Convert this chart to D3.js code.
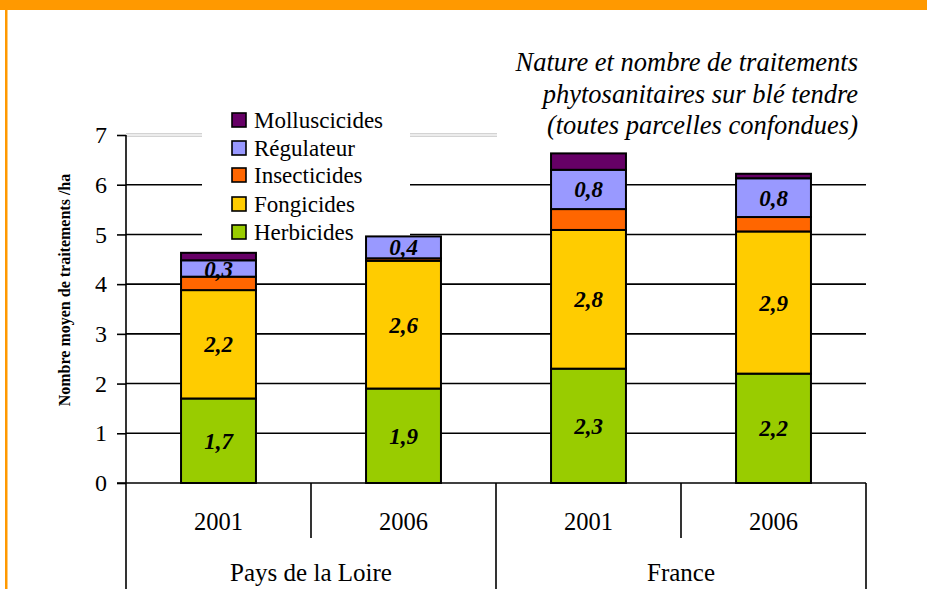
<!DOCTYPE html>
<html>
<head>
<meta charset="utf-8">
<script src="https://cdn.jsdelivr.net/npm/d3@7"></script>
<style>
  body { margin: 0; background: #fff; }
  svg text { font-family: 'Liberation Serif', 'DejaVu Serif', serif; fill: #000; }
  .bar-label { font-weight: bold; font-style: italic; font-size: 23px; }
</style>
</head>
<body>
<div id="vis"></div>
<script>
// data
const groups = ['Pays de la Loire', 'France']
const years = ['2001', '2006', '2001', '2006']
const barGroup = [0, 0, 1, 1]
const series = ['Herbicides', 'Fongicides', 'Insecticides', 'Régulateur', 'Molluscicides']
const herbicides = [1.7, 1.9, 2.3, 2.2]
const fongicides = [2.18, 2.57, 2.79, 2.86]
const insecticides = [0.27, 0.05, 0.42, 0.29]
const regulateur = [0.33, 0.44, 0.79, 0.78]
const molluscicides = [0.15, 0, 0.33, 0.09]
const labelled = ['Herbicides', 'Fongicides', 'Régulateur']
const colors = ['#99cc00', '#ffcc00', '#ff6600', '#9999ff', '#660066']
const yTicks = [0, 1, 2, 3, 4, 5, 6, 7]
const titleLines = ['Nature et nombre de traitements', 'phytosanitaires sur blé tendre', '(toutes parcelles confondues)']

;(function() {
  const svg_width = 927,
        svg_height = 589,
        svg = d3.select('#vis').append('svg')

  svg.attr('width', svg_width)
    .attr('height', svg_height)
    .attr('font-family', "'Liberation Serif', 'DejaVu Serif', serif")

  const left = 126, right = 866, top = 135, bottom = 483

  const rows = years.map((yr, i) => ({
    idx: i,
    'Herbicides': herbicides[i],
    'Fongicides': fongicides[i],
    'Insecticides': insecticides[i],
    'Régulateur': regulateur[i],
    'Molluscicides': molluscicides[i]
  }))

  const stacked = d3.stack().keys(series)(rows)

  const x = d3.scaleBand()
    .domain(d3.range(years.length))
    .range([left, right])
    .paddingInner(0.595)
    .paddingOuter(0.595 / 2)

  const xCat = d3.scaleBand()
    .domain(d3.range(years.length))
    .range([left, right])

  const y = d3.scaleLinear().domain([0, 7]).range([bottom, top])

  const color = d3.scaleOrdinal().domain(series).range(colors)

  // frame
  svg.append('rect').attr('x', 0).attr('y', 0).attr('width', svg_width).attr('height', 10).attr('fill', '#ff9900')
  svg.append('rect').attr('x', 5).attr('y', 0).attr('width', 2.5).attr('height', svg_height).attr('fill', '#ff9900')

  // gridlines
  const grid = svg.append('g')
  grid.selectAll('line.g')
    .data(yTicks.filter(d => d > 0 && d < 7))
    .join('line')
    .attr('x1', left).attr('x2', right)
    .attr('y1', d => y(d)).attr('y2', d => y(d))
    .attr('stroke', '#000').attr('stroke-width', 1.6)
  // top line drawn as a thin double grey line
  ;[-1.2, 1.2].forEach(off => {
    grid.append('line')
      .attr('x1', left).attr('x2', right)
      .attr('y1', y(7) + off).attr('y2', y(7) + off)
      .attr('stroke', '#c0c0c0').attr('stroke-width', 1)
  })

  // white boxes behind legend and title
  svg.append('rect').attr('x', 202).attr('y', 100).attr('width', 208).attr('height', 144).attr('fill', '#fff')
  svg.append('rect').attr('x', 497).attr('y', 40).attr('width', 380).attr('height', 104).attr('fill', '#fff')

  // y axis
  const yAxis = d3.axisLeft(y).tickValues(yTicks).tickSize(9).tickPadding(10).tickFormat(d3.format('d'))
  const ya = svg.append('g').attr('transform', `translate(${left},0)`).call(yAxis)
  ya.attr('font-family', null).attr('font-size', null)
  ya.select('.domain').remove()
  ya.selectAll('.tick line').attr('stroke', '#000').attr('stroke-width', 1.6)
  ya.selectAll('.tick text').attr('font-size', 24).attr('fill', '#000')

  // bars
  const layers = svg.append('g').selectAll('g')
    .data(stacked)
    .join('g')
    .attr('fill', d => color(d.key))

  layers.selectAll('rect')
    .data(d => d.filter(p => p[1] - p[0] > 0))
    .join('rect')
    .attr('x', d => x(d.data.idx))
    .attr('width', x.bandwidth())
    .attr('y', d => y(d[1]))
    .attr('height', d => y(d[0]) - y(d[1]))
    .attr('stroke', '#000')
    .attr('stroke-width', 2)

  // value labels
  stacked.filter(s => labelled.includes(s.key)).forEach(s => {
    svg.append('g').selectAll('text')
      .data(s)
      .join('text')
      .attr('class', 'bar-label')
      .attr('x', d => x(d.data.idx) + x.bandwidth() / 2)
      .attr('y', d => (y(d[0]) + y(d[1])) / 2)
      .attr('dy', '0.35em')
      .attr('text-anchor', 'middle')
      .text(d => d3.format('.1f')(d[1] - d[0]).replace('.', ','))
  })

  // axis lines and category boxes
  const ax = svg.append('g').attr('stroke', '#000').attr('stroke-width', 1.6)
  ax.append('line').attr('x1', left - 9).attr('x2', right).attr('y1', bottom).attr('y2', bottom)
  ax.append('line').attr('x1', left).attr('x2', left).attr('y1', top).attr('y2', svg_height)
  ax.selectAll('line.cat')
    .data(d3.range(1, years.length + 1))
    .join('line')
    .attr('x1', d => xCat(d - 1) + xCat.bandwidth()).attr('x2', d => xCat(d - 1) + xCat.bandwidth())
    .attr('y1', bottom)
    .attr('y2', d => (d % 2 === 0 ? svg_height : 538))

  svg.append('g').selectAll('text')
    .data(years)
    .join('text')
    .attr('x', (d, i) => xCat(i) + xCat.bandwidth() / 2)
    .attr('y', 530)
    .attr('text-anchor', 'middle')
    .attr('font-size', 24.5)
    .text(d => d)

  svg.append('g').selectAll('text')
    .data(groups)
    .join('text')
    .attr('x', (d, gi) => {
      const idx = barGroup.map((g, i) => g === gi ? i : -1).filter(i => i >= 0)
      return (xCat(idx[0]) + xCat(idx[idx.length - 1]) + xCat.bandwidth()) / 2
    })
    .attr('y', 581)
    .attr('text-anchor', 'middle')
    .attr('font-size', 25)
    .text(d => d)

  // y axis title
  svg.append('text')
    .attr('transform', 'translate(70,290) rotate(-90)')
    .attr('text-anchor', 'middle')
    .attr('font-size', 16)
    .attr('font-weight', 'bold')
    .text('Nombre moyen de traitements /ha')

  // legend (top entry first)
  const legend = svg.append('g').attr('transform', 'translate(232,120)')
  const legItems = series.slice().reverse()
  const legRowY = [0, 28, 55, 84, 112]
  const li = legend.selectAll('g')
    .data(legItems)
    .join('g')
    .attr('transform', (d, i) => `translate(0,${legRowY[i]})`)
  li.append('rect')
    .attr('x', 0).attr('y', -7).attr('width', 14).attr('height', 14)
    .attr('fill', d => color(d)).attr('stroke', '#000').attr('stroke-width', 1.6)
  li.append('text')
    .attr('x', 22).attr('y', 0).attr('dy', '0.35em')
    .attr('font-size', 23)
    .text(d => d)

  // title
  svg.append('g').selectAll('text')
    .data(titleLines)
    .join('text')
    .attr('x', 858)
    .attr('y', (d, i) => 71 + i * 31.5)
    .attr('text-anchor', 'end')
    .attr('font-size', 26.5)
    .attr('font-style', 'italic')
    .text(d => d)
}())
</script>
</body>
</html>
